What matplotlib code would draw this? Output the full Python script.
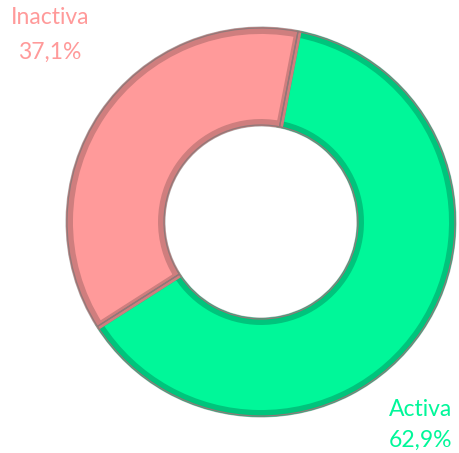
import matplotlib
matplotlib.use("Agg")
import matplotlib.pyplot as plt

categories = ["Activa", "Inactiva"]
values = [62.9, 37.1]
colors = ["#00F799", "#FF9A9A"]
edge_colors = ["#00C47C", "#CF7E7E"]
text_colors = ["#00F799", "#FF9A9A"]

W, H = 459, 453
fig = plt.figure(figsize=(W / 100, H / 100), dpi=100)
ax = fig.add_axes([0, 0, 1, 1])

cx, cy = 261, 231
R = 194
ring = 97
start = 79

# outer gray halo
ax.pie(values, radius=R + 1.5, center=(cx, cy), startangle=start, counterclock=False,
       colors=["#B0B0B0", "#B0B0B0"],
       wedgeprops=dict(width=ring + 3, linewidth=0), frame=True)
# face with darker bevel edge
wedges, _ = ax.pie(values, radius=R - 2.5, center=(cx, cy), startangle=start, counterclock=False,
                   colors=colors, wedgeprops=dict(width=ring - 5, linewidth=5), frame=True)
for w, ec in zip(wedges, edge_colors):
    w.set_edgecolor(ec)
    w.set_joinstyle("miter")
# thin separator lines
ax.pie(values, radius=R, center=(cx, cy), startangle=start, counterclock=False,
       colors=["none", "none"],
       wedgeprops=dict(width=ring, linewidth=0.9, edgecolor="#907878", fill=False), frame=True)

ax.set_xlim(0, W)
ax.set_ylim(0, H)
ax.set_aspect("equal")
ax.axis("off")

label_pos = [((421, 43), (421, 13)), ((50, 435), (50, 401))]
for cat, val, col, (p1, p2) in zip(categories, values, text_colors, label_pos):
    ax.text(p1[0], p1[1], cat, ha="center", va="center", color=col,
            fontsize=16.5, family="Lato")
    ax.text(p2[0], p2[1], f"{val:.1f}%".replace(".", ","), ha="center", va="center",
            color=col, fontsize=16.5, family="Lato")

fig.savefig("out.png", dpi=100)
